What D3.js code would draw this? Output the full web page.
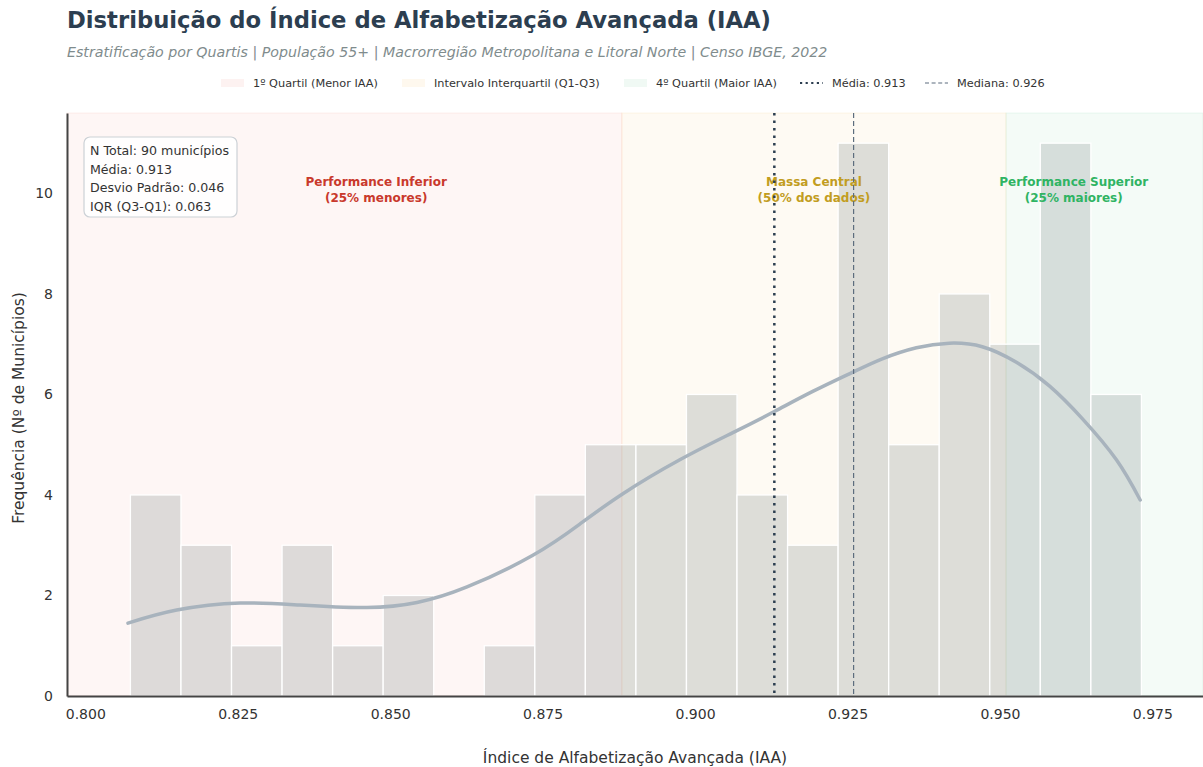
<!DOCTYPE html>
<html>
<head>
<meta charset="utf-8">
<script src="https://cdn.jsdelivr.net/npm/d3@7"></script>
<style>
  body { margin: 0; background: #fff; }
  svg text { font-family: "DejaVu Sans", sans-serif; }
</style>
</head>
<body>
<svg id="chart" width="1203" height="767"></svg>
<script>
// histogram counts (20 bins between min and max)
const binCounts = [4, 3, 1, 3, 1, 2, 0, 1, 4, 5, 5, 6, 4, 3, 11, 5, 8, 7, 11, 6];
const dataMin = 0.8074;
const dataMax = 0.9732;

// density curve (scaled to counts)
const kdeX = [0.8070, 0.8150, 0.8254, 0.8352, 0.8462, 0.8544, 0.8626, 0.8734, 0.8811, 0.8881,
              0.8975, 0.9062, 0.9130, 0.9193, 0.9258, 0.9307, 0.9363, 0.9417, 0.9471, 0.9527,
              0.9581, 0.9635, 0.9691, 0.9730];
const kdeY = [1.45, 1.71, 1.85, 1.81, 1.76, 1.86, 2.17, 2.80, 3.42, 4.02,
              4.70, 5.24, 5.66, 6.06, 6.44, 6.71, 6.93, 7.02, 6.95, 6.64,
              6.17, 5.52, 4.70, 3.90];

const mean = 0.913, median = 0.926, q1 = 0.888, q3 = 0.951;
const statLines = ["N Total: 90 municípios", "Média: 0.913", "Desvio Padrão: 0.046", "IQR (Q3-Q1): 0.063"];
const xTicks = [0.800, 0.825, 0.850, 0.875, 0.900, 0.925, 0.950, 0.975];
const yTicks = [0, 2, 4, 6, 8, 10];

const red = "#e74c3c", orange = "#f39c12", green = "#27ae60";

const svg = d3.select("#chart");

const x = d3.scaleLinear().domain([0.797, 0.9833]).range([67, 1203]);
const y = d3.scaleLinear().domain([0, 11.6]).range([696, 113]);

// quartile bands
const bands = [
    { x0: x.domain()[0], x1: q1, color: red },
    { x0: q1, x1: q3, color: orange },
    { x0: q3, x1: x.domain()[1], color: green }
];
svg.selectAll("rect.band")
    .data(bands)
    .enter().append("rect")
    .attr("x", d => x(d.x0))
    .attr("y", y(11.6))
    .attr("width", d => x(d.x1) - x(d.x0))
    .attr("height", y(0) - y(11.6))
    .style("fill", d => d.color)
    .style("fill-opacity", 0.05)
    .style("stroke", d => d.color)
    .style("stroke-opacity", 0.08)
    .style("stroke-width", 1);

// histogram bars
const binWidth = (dataMax - dataMin) / binCounts.length;
svg.selectAll("rect.bar")
    .data(binCounts)
    .enter().append("rect")
    .attr("x", (d, i) => x(dataMin + i * binWidth))
    .attr("y", d => y(d))
    .attr("width", x(dataMin + binWidth) - x(dataMin))
    .attr("height", d => y(0) - y(d))
    .style("fill", "#7f8c8d")
    .style("fill-opacity", 0.26)
    .style("stroke", "#fff")
    .style("stroke-width", 1.3);

// density line
const kdeLine = d3.line()
    .x(d => x(d[0]))
    .y(d => y(d[1]))
    .curve(d3.curveNatural);
svg.append("path")
    .attr("d", kdeLine(d3.zip(kdeX, kdeY)))
    .style("fill", "none")
    .style("stroke", "#a8b3bd")
    .style("stroke-width", 3.5)
    .style("stroke-linecap", "round");

// zone labels
const zones = [
    { cx: (dataMin + q1) / 2, lines: ["Performance Inferior", "(25% menores)"], color: "#c9392c" },
    { cx: (q1 + q3) / 2, lines: ["Massa Central", "(50% dos dados)"], color: "#c29d1f" },
    { cx: (q3 + dataMax) / 2, lines: ["Performance Superior", "(25% maiores)"], color: "#2fb463" }
];
zones.forEach(z => {
    z.lines.forEach((t, k) => {
        svg.append("text")
            .attr("x", x(z.cx))
            .attr("y", y(10) - 7 + k * 15.5)
            .attr("text-anchor", "middle")
            .style("font-size", "12px")
            .style("font-weight", "bold")
            .style("fill", z.color)
            .text(t);
    });
});

// mean and median lines
svg.append("line")
    .attr("x1", x(mean)).attr("x2", x(mean))
    .attr("y1", y(11.6)).attr("y2", y(0))
    .style("stroke", "#2c3e50")
    .style("stroke-width", 2.5)
    .style("stroke-dasharray", "2.5,5");
svg.append("line")
    .attr("x1", x(median)).attr("x2", x(median))
    .attr("y1", y(11.6)).attr("y2", y(0))
    .style("stroke", "#5d6d7e")
    .style("stroke-width", 1.2)
    .style("stroke-dasharray", "5,3");

// axes
const xAxis = svg.append("g")
    .attr("transform", "translate(0," + y(0) + ")")
    .call(d3.axisBottom(x).tickValues(xTicks).tickFormat(d3.format(".3f")).tickSize(0).tickPadding(13));
xAxis.select(".domain").style("stroke", "#444").style("stroke-width", 2);
xAxis.selectAll("text").style("font-size", "14px").style("fill", "#333");

const yAxis = svg.append("g")
    .attr("transform", "translate(" + x.range()[0] + ",0)")
    .call(d3.axisLeft(y).tickValues(yTicks).tickSize(0).tickPadding(14));
yAxis.select(".domain").style("stroke", "#444").style("stroke-width", 2);
yAxis.selectAll("text").style("font-size", "14px").style("fill", "#333");

svg.append("text")
    .attr("x", 635).attr("y", 763)
    .attr("text-anchor", "middle")
    .style("font-size", "15.5px").style("fill", "#333")
    .text("Índice de Alfabetização Avançada (IAA)");
svg.append("text")
    .attr("transform", "translate(24,408) rotate(-90)")
    .attr("text-anchor", "middle")
    .style("font-size", "15.5px").style("fill", "#333")
    .text("Frequência (Nº de Municípios)");

// stats box
const box = svg.append("g").attr("transform", "translate(84,137)");
box.append("rect")
    .attr("width", 153).attr("height", 80)
    .attr("rx", 6)
    .style("fill", "#fff").style("fill-opacity", 0.85)
    .style("stroke", "#ccd1d6").style("stroke-width", 1.2);
box.selectAll("text")
    .data(statLines)
    .enter().append("text")
    .attr("x", 6)
    .attr("y", (d, i) => 18 + i * 18.5)
    .style("font-size", "12.6px")
    .style("fill", "#333")
    .text(d => d);

// title
svg.append("text")
    .attr("x", 67).attr("y", 28)
    .style("font-size", "22.7px").style("font-weight", "bold").style("fill", "#2c3e50")
    .text("Distribuição do Índice de Alfabetização Avançada (IAA)");
svg.append("text")
    .attr("x", 67).attr("y", 57)
    .style("font-size", "14.2px").style("font-style", "italic").style("fill", "#7f8c8d")
    .text("Estratificação por Quartis | População 55+ | Macrorregião Metropolitana e Litoral Norte | Censo IBGE, 2022");

// legend
const legendItems = [
    { x: 221, type: "patch", color: red, label: "1º Quartil (Menor IAA)" },
    { x: 402, type: "patch", color: orange, label: "Intervalo Interquartil (Q1-Q3)" },
    { x: 624, type: "patch", color: green, label: "4º Quartil (Maior IAA)" },
    { x: 800, type: "dot", color: "#2c3e50", label: "Média: 0.913" },
    { x: 925, type: "dash", color: "#5d6d7e", label: "Mediana: 0.926" }
];
const legend = svg.append("g");
legendItems.forEach(it => {
    if (it.type === "patch") {
        legend.append("rect")
            .attr("x", it.x).attr("y", 79)
            .attr("width", 23).attr("height", 8)
            .style("fill", it.color).style("fill-opacity", 0.07);
    } else {
        legend.append("line")
            .attr("x1", it.x).attr("x2", it.x + 23)
            .attr("y1", 83).attr("y2", 83)
            .style("stroke", it.color)
            .style("stroke-width", it.type === "dot" ? 2.2 : 1.1)
            .style("stroke-dasharray", it.type === "dot" ? "2.2,3.4" : "4,2.6");
    }
    legend.append("text")
        .attr("x", it.x + 32).attr("y", 87)
        .style("font-size", "11.3px").style("fill", "#333")
        .text(it.label);
});
</script>
</body>
</html>
